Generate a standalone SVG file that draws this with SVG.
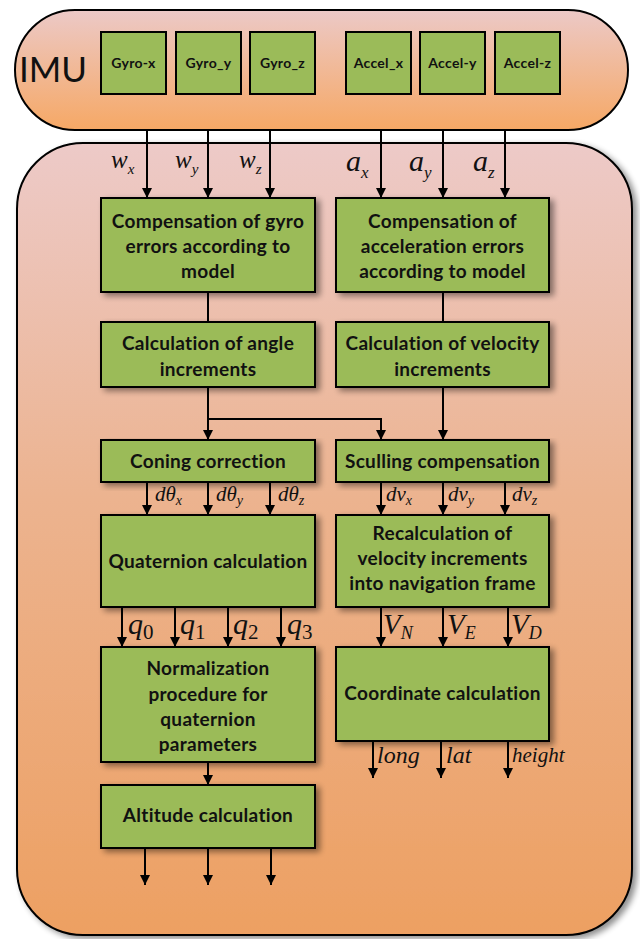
<svg xmlns="http://www.w3.org/2000/svg" width="640" height="939" viewBox="0 0 640 939">
  <defs>
    <linearGradient id="imuFill" x1="0" y1="0" x2="0" y2="1">
      <stop offset="0" stop-color="#ecc9c7"/>
      <stop offset="1" stop-color="#f6a865"/>
    </linearGradient>
    <linearGradient id="bodyFill" x1="0" y1="0" x2="0" y2="1">
      <stop offset="0" stop-color="#edcac8"/>
      <stop offset="0.45" stop-color="#ecb38f"/>
      <stop offset="1" stop-color="#eda062"/>
    </linearGradient>
    <filter id="shadow" x="-10%" y="-10%" width="130%" height="130%">
      <feGaussianBlur in="SourceAlpha" stdDeviation="3"/>
      <feOffset dx="4" dy="3" result="b"/>
      <feComponentTransfer><feFuncA type="linear" slope="0.45"/></feComponentTransfer>
      <feMerge><feMergeNode/><feMergeNode in="SourceGraphic"/></feMerge>
    </filter>
    <marker id="arrow" viewBox="0 0 10 10" refX="10" refY="5" markerWidth="10" markerHeight="10" markerUnits="userSpaceOnUse" orient="auto">
      <path d="M0,0 L10,5 L0,10 Z" fill="#000"/>
    </marker>
    <style>
      .box { fill: #9bbb59; stroke: #000; stroke-width: 2; }
      .sensor { font-family: Lato, "Liberation Sans", sans-serif; font-weight: bold; font-size: 14px; letter-spacing: 0.3px; text-anchor: middle; fill: #111; }
      .lbl { font-family: Lato, "Liberation Sans", sans-serif; font-weight: bold; font-size: 19px; letter-spacing: 0.3px; text-anchor: middle; fill: #111; }
      .wire { fill: none; stroke: #000; stroke-width: 2; }
      .arr { fill: none; stroke: #000; stroke-width: 2; marker-end: url(#arrow); }
      .m { font-family: "Liberation Serif", "DejaVu Serif", serif; font-style: italic; fill: #111; }
      .mr { font-family: "Liberation Serif", "DejaVu Serif", serif; font-style: normal; fill: #111; }
    </style>
  </defs>

  <!-- processing body -->
  <g id="body">
    <rect x="17" y="143" width="615" height="792" rx="66" ry="66" fill="url(#bodyFill)" stroke="#000" stroke-width="2" filter="url(#shadow)"/>
  </g>

  <!-- IMU unit with its sensors -->
  <g id="imu">
    <rect x="15" y="10" width="613" height="120" rx="60" ry="60" fill="url(#imuFill)" stroke="#000" stroke-width="2"/>
    <text x="19" y="82" font-family="Lato, 'Liberation Sans', sans-serif" font-size="35" fill="#111">IMU</text>
  </g>
  <g id="gyro-x"><rect class="box" x="101" y="32" width="65" height="62"/><text class="sensor" x="133.5" y="68">Gyro-x</text></g>
  <g id="gyro-y"><rect class="box" x="176" y="32" width="65" height="62"/><text class="sensor" x="208.5" y="68">Gyro_y</text></g>
  <g id="gyro-z"><rect class="box" x="250" y="32" width="65" height="62"/><text class="sensor" x="282.5" y="68">Gyro_z</text></g>
  <g id="accel-x"><rect class="box" x="346" y="32" width="65" height="62"/><text class="sensor" x="378.5" y="68">Accel_x</text></g>
  <g id="accel-y"><rect class="box" x="420" y="32" width="65" height="62"/><text class="sensor" x="452.5" y="68">Accel-y</text></g>
  <g id="accel-z"><rect class="box" x="495" y="32" width="65" height="62"/><text class="sensor" x="527.5" y="68">Accel-z</text></g>

  <!-- connectors -->
  <g id="connectors">
    <path class="arr" d="M147,130 V198"/>
    <path class="arr" d="M208,130 V198"/>
    <path class="arr" d="M270,130 V198"/>
    <path class="arr" d="M381,130 V198"/>
    <path class="arr" d="M443,130 V198"/>
    <path class="arr" d="M505,130 V198"/>

    <path class="wire" d="M208,292 V322"/>
    <path class="wire" d="M443,292 V322"/>

    <path class="arr" d="M208,387 V440"/>
    <path class="arr" d="M208,419 H381 V440"/>
    <path class="arr" d="M443,387 V440"/>

    <path class="arr" d="M147,482 V515"/>
    <path class="arr" d="M208,482 V515"/>
    <path class="arr" d="M270,482 V515"/>
    <path class="arr" d="M381,482 V515"/>
    <path class="arr" d="M443,482 V515"/>
    <path class="arr" d="M505,482 V515"/>

    <path class="arr" d="M122,607 V647"/>
    <path class="arr" d="M175,607 V647"/>
    <path class="arr" d="M228,607 V647"/>
    <path class="arr" d="M281,607 V647"/>
    <path class="arr" d="M381,607 V647"/>
    <path class="arr" d="M443,607 V647"/>
    <path class="arr" d="M508,607 V647"/>

    <path class="arr" d="M373,741 V778"/>
    <path class="arr" d="M441,741 V778"/>
    <path class="arr" d="M508,741 V778"/>

    <path class="arr" d="M208,762 V785"/>

    <path class="arr" d="M145,848 V885"/>
    <path class="arr" d="M208,848 V885"/>
    <path class="arr" d="M271,848 V885"/>
  </g>

  <!-- signal labels -->
  <g id="signal-labels">
    <text class="m" x="111" y="168" font-size="25">w<tspan font-size="15" dy="6">x</tspan></text>
    <text class="m" x="175" y="168" font-size="25">w<tspan font-size="15" dy="6">y</tspan></text>
    <text class="m" x="239" y="168" font-size="25">w<tspan font-size="15" dy="6">z</tspan></text>
    <text class="m" x="346" y="171" font-size="30">a<tspan font-size="17" dy="7">x</tspan></text>
    <text class="m" x="409" y="171" font-size="30">a<tspan font-size="17" dy="7">y</tspan></text>
    <text class="m" x="473" y="171" font-size="30">a<tspan font-size="17" dy="7">z</tspan></text>

    <text class="m" x="155" y="501" font-size="21">dθ<tspan font-size="14" dy="4">x</tspan></text>
    <text class="m" x="216" y="501" font-size="21">dθ<tspan font-size="14" dy="4">y</tspan></text>
    <text class="m" x="278" y="501" font-size="21">dθ<tspan font-size="14" dy="4">z</tspan></text>
    <text class="m" x="386" y="501" font-size="21">dv<tspan font-size="14" dy="4">x</tspan></text>
    <text class="m" x="448" y="501" font-size="21">dv<tspan font-size="14" dy="4">y</tspan></text>
    <text class="m" x="512" y="501" font-size="21">dv<tspan font-size="14" dy="4">z</tspan></text>

    <text class="m" x="128" y="634" font-size="30">q<tspan class="mr" font-size="21" dy="5">0</tspan></text>
    <text class="m" x="180" y="634" font-size="30">q<tspan class="mr" font-size="21" dy="5">1</tspan></text>
    <text class="m" x="233" y="634" font-size="30">q<tspan class="mr" font-size="21" dy="5">2</tspan></text>
    <text class="m" x="287" y="634" font-size="30">q<tspan class="mr" font-size="21" dy="5">3</tspan></text>
    <text class="m" x="383" y="634" font-size="29">V<tspan font-size="18" dy="5">N</tspan></text>
    <text class="m" x="447" y="634" font-size="29">V<tspan font-size="18" dy="5">E</tspan></text>
    <text class="m" x="511" y="634" font-size="29">V<tspan font-size="18" dy="5">D</tspan></text>

    <text class="m" x="377" y="763" font-size="24">long</text>
    <text class="m" x="446" y="763" font-size="24">lat</text>
    <text class="m" x="512" y="762" font-size="21">height</text>
  </g>

  <!-- processing steps -->
  <g id="gyro-compensation">
    <rect class="box" x="101" y="198" width="214" height="94" filter="url(#shadow)"/>
    <text class="lbl" x="208" y="228">Compensation of gyro</text>
    <text class="lbl" x="208" y="253">errors according to</text>
    <text class="lbl" x="208" y="278">model</text>
  </g>
  <g id="accel-compensation">
    <rect class="box" x="336" y="198" width="213" height="94" filter="url(#shadow)"/>
    <text class="lbl" x="442.5" y="228">Compensation of</text>
    <text class="lbl" x="442.5" y="253">acceleration errors</text>
    <text class="lbl" x="442.5" y="278">according to model</text>
  </g>
  <g id="angle-increments">
    <rect class="box" x="101" y="322" width="214" height="65" filter="url(#shadow)"/>
    <text class="lbl" x="208" y="350">Calculation of angle</text>
    <text class="lbl" x="208" y="376">increments</text>
  </g>
  <g id="velocity-increments">
    <rect class="box" x="336" y="322" width="213" height="65" filter="url(#shadow)"/>
    <text class="lbl" x="442.5" y="350">Calculation of velocity</text>
    <text class="lbl" x="442.5" y="376">increments</text>
  </g>
  <g id="coning">
    <rect class="box" x="101" y="440" width="214" height="42" filter="url(#shadow)"/>
    <text class="lbl" x="208" y="468">Coning correction</text>
  </g>
  <g id="sculling">
    <rect class="box" x="336" y="440" width="213" height="42" filter="url(#shadow)"/>
    <text class="lbl" x="442.5" y="468">Sculling compensation</text>
  </g>
  <g id="quaternion">
    <rect class="box" x="101" y="515" width="214" height="92" filter="url(#shadow)"/>
    <text class="lbl" x="208" y="568">Quaternion calculation</text>
  </g>
  <g id="navigation-frame">
    <rect class="box" x="336" y="515" width="213" height="92" filter="url(#shadow)"/>
    <text class="lbl" x="442.5" y="540">Recalculation of</text>
    <text class="lbl" x="442.5" y="565">velocity increments</text>
    <text class="lbl" x="442.5" y="590">into navigation frame</text>
  </g>
  <g id="normalization">
    <rect class="box" x="101" y="647" width="214" height="115" filter="url(#shadow)"/>
    <text class="lbl" x="208" y="675">Normalization</text>
    <text class="lbl" x="208" y="701">procedure for</text>
    <text class="lbl" x="208" y="726">quaternion</text>
    <text class="lbl" x="208" y="751">parameters</text>
  </g>
  <g id="coordinates">
    <rect class="box" x="336" y="647" width="213" height="94" filter="url(#shadow)"/>
    <text class="lbl" x="442.5" y="700">Coordinate calculation</text>
  </g>
  <g id="altitude">
    <rect class="box" x="101" y="785" width="214" height="63" filter="url(#shadow)"/>
    <text class="lbl" x="208" y="822">Altitude calculation</text>
  </g>
</svg>
